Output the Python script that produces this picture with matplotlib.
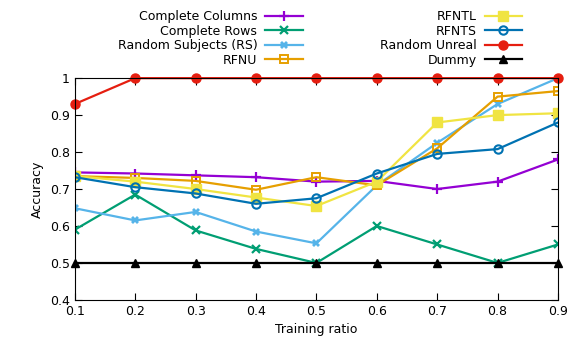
import numpy as np
import matplotlib.pyplot as plt

ratio = [0.1, 0.2, 0.3, 0.4, 0.5, 0.6, 0.7, 0.8, 0.9]

complete_columns = [0.745, 0.742, 0.737, 0.732, 0.720, 0.722, 0.700, 0.720, 0.780]
complete_rows = [0.590, 0.685, 0.588, 0.538, 0.500, 0.600, 0.550, 0.500, 0.550]
random_subjects = [0.648, 0.615, 0.638, 0.585, 0.553, 0.710, 0.825, 0.930, 1.000]
rfnu = [0.735, 0.730, 0.722, 0.698, 0.732, 0.710, 0.810, 0.950, 0.965]
rfntl = [0.735, 0.720, 0.700, 0.677, 0.654, 0.720, 0.880, 0.900, 0.905]
rfnts = [0.732, 0.705, 0.688, 0.660, 0.675, 0.742, 0.795, 0.808, 0.880]
random_unreal = [0.930, 1.0, 1.0, 1.0, 1.0, 1.0, 1.0, 1.0, 1.0]
dummy = [0.5, 0.5, 0.5, 0.5, 0.5, 0.5, 0.5, 0.5, 0.5]

plt.rcParams['font.size'] = 9

fig = plt.figure(figsize=(5.8, 3.52), dpi=100)
ax = fig.add_axes([0.129, 0.148, 0.833, 0.630])

lw = 1.6
h1 = ax.plot(ratio, complete_columns, color='#9400d3', lw=lw, marker='+', ms=6.5, mew=1.6, label='Complete Columns')[0]
h2 = ax.plot(ratio, complete_rows, color='#009e73', lw=lw, marker='x', ms=5.5, mew=1.6, label='Complete Rows')[0]
h3 = ax.plot(ratio, random_subjects, color='#56b4e9', lw=lw, marker='X', ms=6, mew=0, label='Random Subjects (RS)')[0]
h4 = ax.plot(ratio, rfnu, color='#e69f00', lw=lw, marker='s', ms=6, mfc='none', mew=1.4, label='RFNU')[0]
h5 = ax.plot(ratio, rfntl, color='#f0e442', lw=lw, marker='s', ms=6.5, label='RFNTL')[0]
h6 = ax.plot(ratio, rfnts, color='#0072b2', lw=lw, marker='o', ms=6, mfc='none', mew=1.5, label='RFNTS')[0]
h7 = ax.plot(ratio, random_unreal, color='#e51e10', lw=lw, marker='o', ms=6.5, label='Random Unreal', clip_on=False)[0]
h8 = ax.plot(ratio, dummy, color='black', lw=lw, marker='^', ms=6, label='Dummy', clip_on=False)[0]

ax.set_xlim(0.1, 0.9)
ax.set_ylim(0.4, 1.0)
ax.set_xticks(ratio)
ax.set_yticks([0.4, 0.5, 0.6, 0.7, 0.8, 0.9, 1.0])
ax.set_yticklabels(['0.4', '0.5', '0.6', '0.7', '0.8', '0.9', '1'])
ax.tick_params(direction='in', top=True, right=True, length=5, labelsize=9)
ax.set_xlabel('Training ratio', fontsize=9)
ax.set_ylabel('Accuracy', fontsize=9)

leg_kw = dict(frameon=False, markerfirst=False, fontsize=9, handlelength=3.0,
              labelspacing=0.12, handletextpad=0.65, borderaxespad=0)
fig.legend(handles=[h1, h2, h3, h4], loc='upper right', bbox_to_anchor=(0.531, 0.985), **leg_kw)
fig.legend(handles=[h5, h6, h7, h8], loc='upper right', bbox_to_anchor=(0.909, 0.985), **leg_kw)

fig.savefig('out.png', dpi=100)
